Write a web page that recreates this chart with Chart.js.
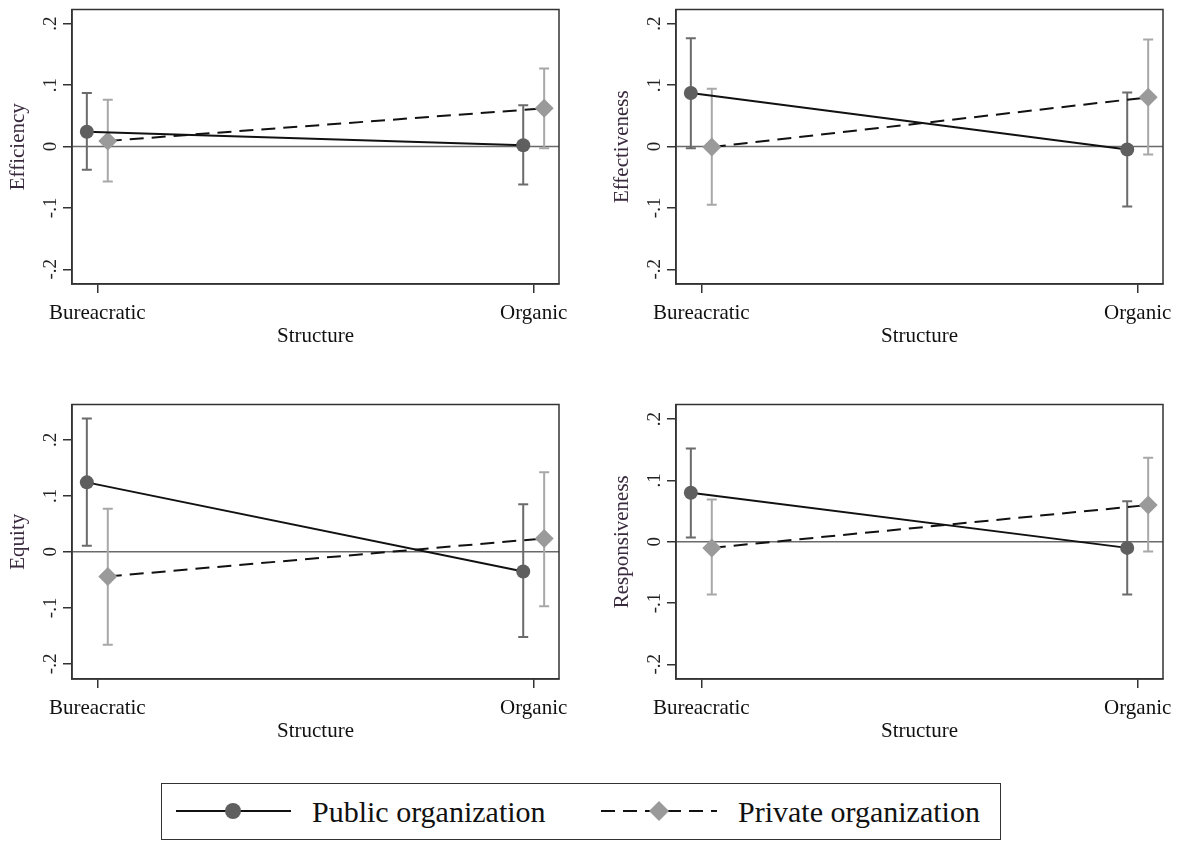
<!DOCTYPE html>
<html>
<head>
<meta charset="utf-8">
<script src="https://cdn.jsdelivr.net/npm/chart.js@4"></script>
<style>
  body { margin: 0; background: #fff; width: 1184px; height: 842px; position: relative; overflow: hidden; }
  canvas.panel { position: absolute; }
  .legend { position: absolute; left: 161px; top: 783px; width: 840px; height: 57px; border: 1.5px solid #333; box-sizing: border-box; font-family: 'Liberation Serif', serif; font-size: 30px; line-height: 30px; color: #111; }
  .legend svg { position: absolute; top: 0; }
  .legend span { position: absolute; top: 13px; white-space: nowrap; }
</style>
</head>
<body>
<canvas id="p0" class="panel" width="590" height="360" style="left:0;top:0"></canvas>
<canvas id="p1" class="panel" width="580" height="360" style="left:604px;top:0"></canvas>
<canvas id="p2" class="panel" width="590" height="360" style="left:0;top:395px"></canvas>
<canvas id="p3" class="panel" width="580" height="360" style="left:604px;top:395px"></canvas>

<div class="legend">
  <svg width="140" height="57" style="left:12px">
    <line x1="2" y1="27" x2="117" y2="27" stroke="#111" stroke-width="2.2"/>
    <circle cx="59" cy="27" r="8" fill="#5f5f5f"/>
  </svg>
  <span style="left:150px">Public organization</span>
  <svg width="140" height="57" style="left:437px">
    <line x1="2" y1="27" x2="118" y2="27" stroke="#111" stroke-width="2.2" stroke-dasharray="14 8"/>
    <polygon points="60,17 70,27 60,37 50,27" fill="#9a9a9a"/>
  </svg>
  <span style="left:576px">Private organization</span>
</div>

<script>
// valores (efeitos marginais com IC 95%)
const categories = ['Bureacratic', 'Organic'];
const outcomes = ['Efficiency', 'Effectiveness', 'Equity', 'Responsiveness'];
const yTicks = [-0.2, -0.1, 0, 0.1, 0.2];
const yTickLabels = ['-.2', '-.1', '0', '.1', '.2'];
const yMin = [-0.224, -0.224, -0.227, -0.224];
const yMax = [0.223, 0.223, 0.263, 0.224];

const publicMean = [[0.024, 0.002], [0.087, -0.005], [0.124, -0.035], [0.080, -0.010]];
const publicLow  = [[-0.038, -0.062], [-0.003, -0.098], [0.011, -0.152], [0.007, -0.086]];
const publicHigh = [[0.087, 0.067], [0.176, 0.088], [0.238, 0.085], [0.152, 0.066]];

const privateMean = [[0.009, 0.062], [-0.001, 0.080], [-0.044, 0.024], [-0.010, 0.060]];
const privateLow  = [[-0.057, -0.003], [-0.095, -0.013], [-0.166, -0.097], [-0.086, -0.016]];
const privateHigh = [[0.076, 0.127], [0.094, 0.174], [0.077, 0.142], [0.069, 0.137]];

const shift = 0.024;
const serif = 'Liberation Serif';

function makePanel(p) {
    const canvas = document.getElementById('p' + p);
    const rightPad = p % 2 === 0 ? 31 : 21;

    const series = [
        { mean: publicMean[p], low: publicLow[p], high: publicHigh[p], dx: -shift, color: '#6b6b6b' },
        { mean: privateMean[p], low: privateLow[p], high: privateHigh[p], dx: shift, color: '#a8a8a8' }
    ];

    const framePlugin = {
        id: 'frame',
        beforeDatasetsDraw(chart) {
            const { ctx, chartArea: a, scales: { x, y } } = chart;
            ctx.save();
            // linha do zero
            ctx.strokeStyle = '#6a6a6a';
            ctx.lineWidth = 1.5;
            ctx.beginPath();
            ctx.moveTo(a.left, y.getPixelForValue(0));
            ctx.lineTo(a.right, y.getPixelForValue(0));
            ctx.stroke();
            // intervalos de confiança
            series.forEach(s => {
                ctx.strokeStyle = s.color;
                ctx.lineWidth = 2;
                s.mean.forEach((m, i) => {
                    const px = x.getPixelForValue(i + s.dx);
                    const lo = y.getPixelForValue(s.low[i]);
                    const hi = y.getPixelForValue(s.high[i]);
                    ctx.beginPath();
                    ctx.moveTo(px, lo); ctx.lineTo(px, hi);
                    ctx.moveTo(px - 5, lo); ctx.lineTo(px + 5, lo);
                    ctx.moveTo(px - 5, hi); ctx.lineTo(px + 5, hi);
                    ctx.stroke();
                });
            });
            // moldura
            ctx.strokeStyle = '#333';
            ctx.lineWidth = 1.5;
            ctx.strokeRect(a.left, a.top, a.right - a.left, a.bottom - a.top);
            // rótulos do eixo y girados
            ctx.fillStyle = '#222';
            ctx.font = '19px "' + serif + '"';
            ctx.textAlign = 'center';
            ctx.textBaseline = 'middle';
            yTicks.forEach((v, i) => {
                ctx.save();
                ctx.translate(a.left - 21, y.getPixelForValue(v));
                ctx.rotate(-Math.PI / 2);
                ctx.fillText(yTickLabels[i], 0, 0);
                ctx.restore();
            });
            ctx.restore();
        }
    };

    new Chart(canvas, {
        type: 'scatter',
        data: {
            datasets: [
                {
                    label: 'Public organization',
                    data: categories.map((c, i) => ({ x: i - shift, y: publicMean[p][i] })),
                    showLine: true,
                    borderColor: '#111',
                    borderWidth: 2,
                    pointStyle: 'circle',
                    pointRadius: 7,
                    pointBackgroundColor: '#5f5f5f',
                    pointBorderWidth: 0
                },
                {
                    label: 'Private organization',
                    data: categories.map((c, i) => ({ x: i + shift, y: privateMean[p][i] })),
                    showLine: true,
                    borderColor: '#111',
                    borderWidth: 2,
                    borderDash: [14, 8],
                    pointStyle: 'rectRot',
                    pointRadius: 9.5,
                    pointBackgroundColor: '#9a9a9a',
                    pointBorderWidth: 0
                }
            ]
        },
        options: {
            responsive: false,
            animation: false,
            layout: { padding: { top: 5, right: rightPad, left: 0, bottom: 0 } },
            plugins: { legend: { display: false }, tooltip: { enabled: false } },
            scales: {
                x: {
                    type: 'linear',
                    min: -0.058,
                    max: 1.058,
                    afterBuildTicks: s => { s.ticks = categories.map((c, i) => ({ value: i })); },
                    afterFit: s => { s.height = 76; },
                    ticks: {
                        callback: v => categories[v],
                        font: { family: serif, size: 21 },
                        color: '#111',
                        padding: 8,
                        maxRotation: 0,
                        autoSkip: false
                    },
                    grid: { drawOnChartArea: false, drawTicks: true, tickLength: 9, color: '#333', lineWidth: 1.5 },
                    border: { display: true, color: '#333', width: 1.5 },
                    title: { display: true, text: 'Structure', font: { family: serif, size: 21 }, color: '#111', padding: { top: 0, bottom: 11 } }
                },
                y: {
                    min: yMin[p],
                    max: yMax[p],
                    afterBuildTicks: s => { s.ticks = yTicks.map(v => ({ value: v })); },
                    afterFit: s => { s.width = 72; },
                    ticks: { display: false },
                    grid: { drawOnChartArea: false, drawTicks: true, tickLength: 9, color: '#333', lineWidth: 1.5 },
                    border: { display: true, color: '#333', width: 1.5 },
                    title: { display: true, text: outcomes[p], font: { family: serif, size: 21 }, color: '#3a2a3e', padding: { top: 6, bottom: 0 } }
                }
            }
        },
        plugins: [framePlugin]
    });
}

[0, 1, 2, 3].forEach(makePanel);
</script>
</body>
</html>
